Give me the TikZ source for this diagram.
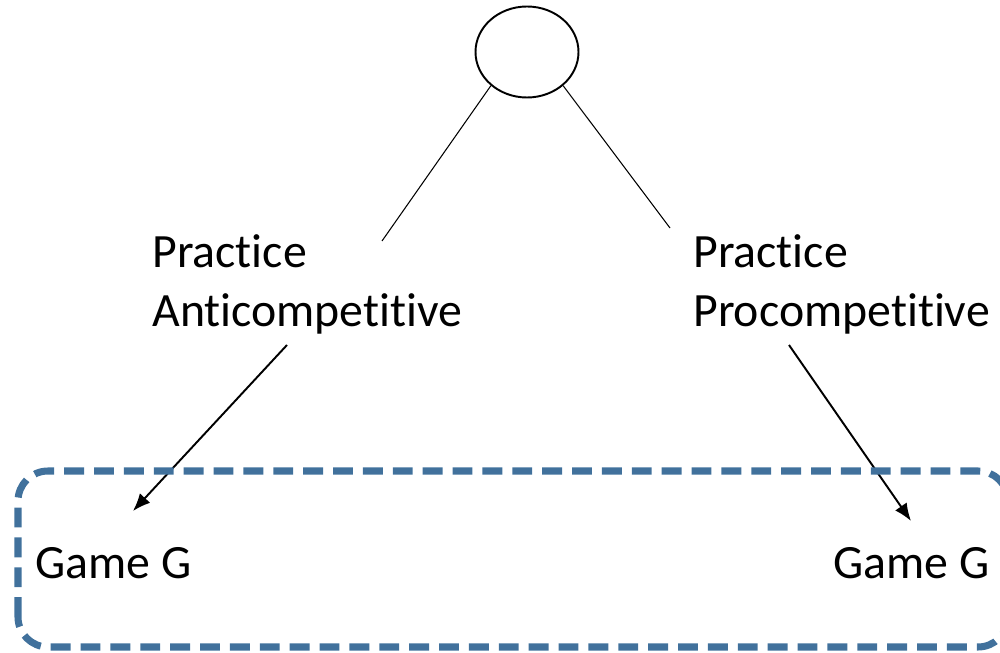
\documentclass[tikz,border=0pt]{standalone}
\usepackage{fontspec}
\setmainfont[Ligatures=NoCommon]{Carlito}
\usetikzlibrary{shapes.geometric,arrows.meta}
\definecolor{boxblue}{RGB}{65,113,156}
\begin{document}
\begin{tikzpicture}
    \useasboundingbox (0,0) rectangle (20,13.04);
    \node [draw, shape = ellipse, line width = 1.1pt, minimum width = 2.06cm, minimum height = 1.82cm, inner sep = 0pt] (root) at (10.54,12.0) {};
    \coordinate (a) at (7.64,8.22);
    \coordinate (b) at (13.4,8.48);
    \node [anchor = west, align = left, inner sep = 0pt, font = \fontsize{27.2}{33.5}\selectfont] (anti) at (3.04,7.36) {Practice\\Anticompetitive};
    \node [anchor = west, align = left, inner sep = 0pt, font = \fontsize{27.2}{33.5}\selectfont] (pro) at (13.86,7.36) {Practice\\Procompetitive};
    \coordinate (as) at (5.74,6.14);
    \coordinate (ae) at (2.66,2.82);
    \coordinate (ps) at (15.78,6.14);
    \coordinate (pe) at (18.22,2.62);
    \node [anchor = base west, inner sep = 0pt, font = \fontsize{27.2}{33.5}\selectfont] (gl) at (0.70,1.48) {Game G};
    \node [anchor = base west, inner sep = 0pt, font = \fontsize{27.2}{33.5}\selectfont] (gr) at (16.66,1.48) {Game G};

    \draw [line width = 0.6pt] (root.223) to (a);
    \draw [line width = 0.6pt] (root.317) to (b);
    \draw [line width = 1.1pt, -{Latex[length=10pt,width=8pt]}] (as) to (ae);
    \draw [line width = 1.1pt, -{Latex[length=10pt,width=8pt]}] (ps) to (pe);
    \draw [boxblue, line width = 4pt, dash pattern = on 11.3pt off 5.7pt, rounded corners = 0.6cm] (0.36,0.10) rectangle (20.16,3.62);
\end{tikzpicture}
\end{document}
